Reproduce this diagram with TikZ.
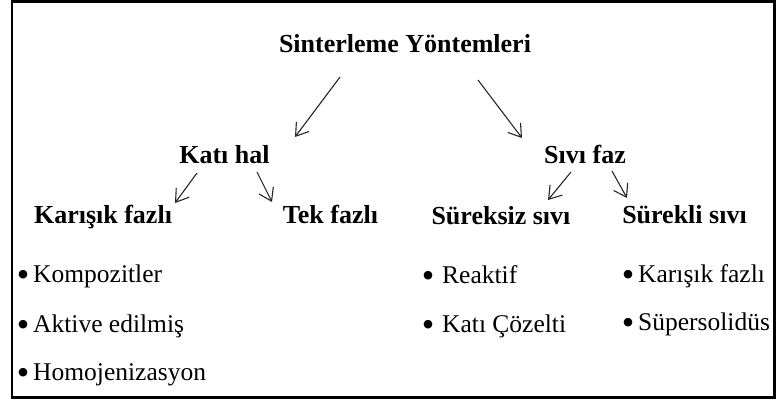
\documentclass[tikz,border=0pt]{standalone}
\usepackage{fontspec}
\setmainfont{Liberation Serif}
\usetikzlibrary{arrows.meta,calc}
\newcommand{\bigbul}{\raisebox{-4pt}{\scalebox{1.4}{•}}}
\begin{document}
\begin{tikzpicture}[x=1pt,y=-1pt,
 head/.style={font=\fontsize{26}{30}\selectfont\bfseries, inner sep=0pt, anchor=base},
 item/.style={font=\fontsize{25.5}{30}\selectfont, inner sep=0pt, anchor=base west},
 arr/.style={line width=1.1pt, black!85, -{Straight Barb[length=12pt,width=16pt,line width=1.1pt]}},
]
\useasboundingbox (0,0) rectangle (776,401);
\draw[line width=2.5pt] (12,1.5) rectangle (774.5,397.5);

\node[head] (title) at (405,53) {Sinterleme Yöntemleri};
\node[head] (kati) at (224.5,163) {Katı hal};
\node[head] (sivi) at (585,163) {Sıvı faz};
\node[head] (karisik) at (103,223) {Karışık fazlı};
\node[head] (tek) at (330.5,223) {Tek fazlı};
\node[head] (sureksiz) at (501,224) {Süreksiz sıvı};
\node[head] (surekli) at (684.5,223) {Sürekli sıvı};

\node[item] (k1) at (16.6,282) {\bigbul\kern3.9pt{}Kompozitler};
\node[item] (k2) at (16.6,332) {\bigbul\kern3.9pt{}Aktive edilmiş};
\node[item] (k3) at (16.6,380) {\bigbul\kern3.9pt{}Homojenizasyon};
\node[item] (s1) at (421.6,283) {\bigbul\kern7.9pt{}Reaktif};
\node[item] (s2) at (421.6,332) {\bigbul\kern7.9pt{}Katı Çözelti};
\node[item] (l1) at (621.6,282) {\bigbul\kern3.9pt{}Karışık fazlı};
\node[item] (l2) at (621.6,330) {\bigbul\kern3.9pt{}Süpersolidüs};

\draw[arr] ($(title.base)+(-65,24)$) -- ($(kati.base)+(70.5,-26)$);
\draw[arr] ($(title.base)+(73,27)$) -- ($(sivi.base)+(-63,-25)$);
\draw[arr] ($(kati.base)+(-27.5,10)$) -- ($(karisik.base)+(72,-20)$);
\draw[arr] ($(kati.base)+(32.5,9)$) -- ($(tek.base)+(-58.5,-21)$);
\draw[arr] ($(sivi.base)+(-14,9)$) -- ($(sureksiz.base)+(47,-24)$);
\draw[arr] ($(sivi.base)+(27,8)$) -- ($(surekli.base)+(-57.5,-25)$);
\end{tikzpicture}
\end{document}
